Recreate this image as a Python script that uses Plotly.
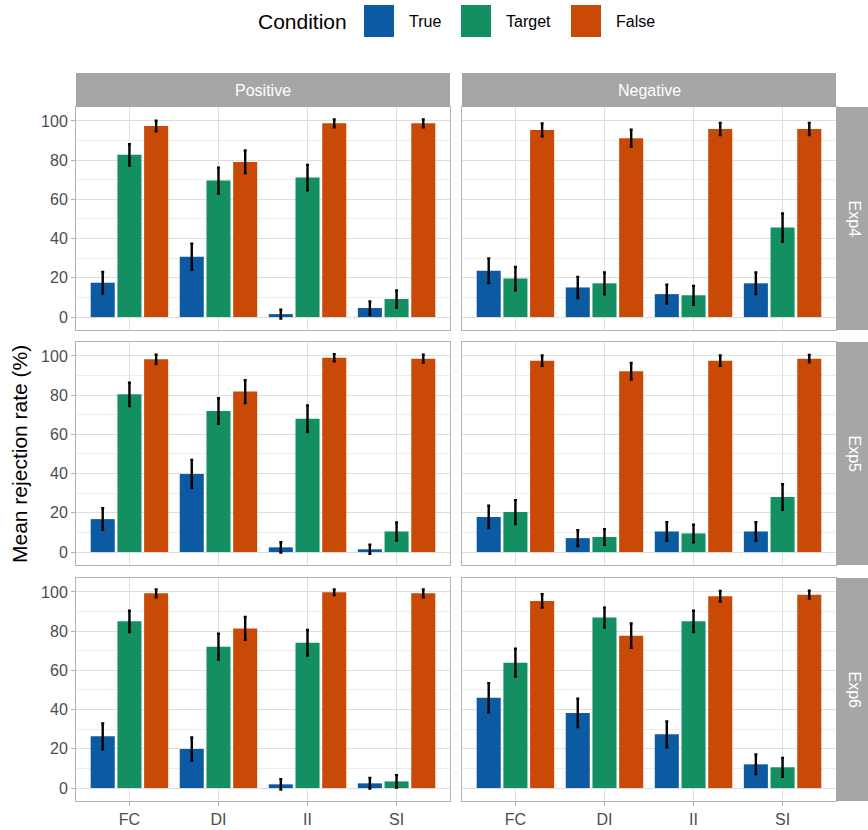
import plotly.graph_objects as go
from plotly.subplots import make_subplots

categories = ["FC", "DI", "II", "SI"]
conditions = ["True", "Target", "False"]
polarities = ["Positive", "Negative"]
experiments = ["Exp4", "Exp5", "Exp6"]
y_ticks = [0, 20, 40, 60, 80, 100]
y_minor = [10, 30, 50, 70, 90]

# Mean rejection rate (%) per experiment / polarity / condition, over categories FC, DI, II, SI
exp4_pos_true = [17.5, 30.8, 1.5, 4.6]
exp4_pos_target = [82.7, 69.6, 71.1, 9.2]
exp4_pos_false = [97.4, 79.1, 98.8, 98.8]
exp4_neg_true = [23.6, 15.1, 11.7, 17.2]
exp4_neg_target = [19.6, 17.2, 11.1, 45.6]
exp4_neg_false = [95.4, 91.2, 95.9, 95.9]

exp5_pos_true = [16.8, 39.8, 2.4, 1.4]
exp5_pos_target = [80.4, 71.9, 68.0, 10.5]
exp5_pos_false = [98.3, 81.8, 99.1, 98.6]
exp5_neg_true = [17.9, 7.1, 10.5, 10.5]
exp5_neg_target = [20.4, 7.7, 9.5, 28.1]
exp5_neg_false = [97.6, 92.2, 97.6, 98.6]

exp6_pos_true = [26.4, 19.9, 1.9, 2.4]
exp6_pos_target = [85.0, 72.1, 74.1, 3.4]
exp6_pos_false = [99.3, 81.4, 99.8, 99.3]
exp6_neg_true = [46.0, 38.3, 27.4, 12.1]
exp6_neg_target = [63.9, 86.9, 85.0, 10.6]
exp6_neg_false = [95.4, 77.7, 97.8, 98.6]

# Error bar half-widths (%)
exp4_pos_true_err = [5.5, 6.6, 2.2, 3.3]
exp4_pos_target_err = [5.4, 6.6, 6.5, 4.4]
exp4_pos_false_err = [2.7, 5.8, 2.0, 2.0]
exp4_neg_true_err = [6.3, 5.4, 4.8, 5.5]
exp4_neg_target_err = [5.9, 5.6, 4.8, 7.2]
exp4_neg_false_err = [3.3, 4.3, 3.1, 3.1]

exp5_pos_true_err = [5.5, 7.1, 2.6, 2.3]
exp5_pos_target_err = [6.0, 6.5, 6.8, 4.6]
exp5_pos_false_err = [2.3, 5.8, 1.8, 2.0]
exp5_neg_true_err = [5.7, 4.0, 4.7, 4.7]
exp5_neg_target_err = [6.1, 4.0, 4.5, 6.5]
exp5_neg_false_err = [2.6, 4.2, 2.6, 1.9]

exp6_pos_true_err = [6.6, 5.9, 2.6, 2.7]
exp6_pos_target_err = [5.4, 6.6, 6.5, 3.2]
exp6_pos_false_err = [2.0, 5.8, 1.4, 2.0]
exp6_neg_true_err = [7.4, 7.2, 6.6, 5.0]
exp6_neg_target_err = [7.1, 5.1, 5.4, 4.8]
exp6_neg_false_err = [3.4, 6.2, 2.7, 2.0]

values = {
    ("Exp4", "Positive"): [exp4_pos_true, exp4_pos_target, exp4_pos_false],
    ("Exp4", "Negative"): [exp4_neg_true, exp4_neg_target, exp4_neg_false],
    ("Exp5", "Positive"): [exp5_pos_true, exp5_pos_target, exp5_pos_false],
    ("Exp5", "Negative"): [exp5_neg_true, exp5_neg_target, exp5_neg_false],
    ("Exp6", "Positive"): [exp6_pos_true, exp6_pos_target, exp6_pos_false],
    ("Exp6", "Negative"): [exp6_neg_true, exp6_neg_target, exp6_neg_false],
}
errors = {
    ("Exp4", "Positive"): [exp4_pos_true_err, exp4_pos_target_err, exp4_pos_false_err],
    ("Exp4", "Negative"): [exp4_neg_true_err, exp4_neg_target_err, exp4_neg_false_err],
    ("Exp5", "Positive"): [exp5_pos_true_err, exp5_pos_target_err, exp5_pos_false_err],
    ("Exp5", "Negative"): [exp5_neg_true_err, exp5_neg_target_err, exp5_neg_false_err],
    ("Exp6", "Positive"): [exp6_pos_true_err, exp6_pos_target_err, exp6_pos_false_err],
    ("Exp6", "Negative"): [exp6_neg_true_err, exp6_neg_target_err, exp6_neg_false_err],
}

colors = ["#0B5AA2", "#148F62", "#C84A06"]

W, H = 868, 830
FONT = "Liberation Sans, Arial, sans-serif"
STRIP = "#A6A6A6"
BORDER = "#B3B3B3"
GRID = "#DEDEDE"
GRID_MINOR = "#EDEDED"

# pixel layout
col_x = [(76, 450), (462, 836)]
row_y = [(107, 330), (342, 565), (578, 801)]


def px_x(v):
    return v / W


def px_y(v):
    return 1 - v / H


fig = make_subplots(rows=3, cols=2)

for r, exp in enumerate(experiments):
    for c, pol in enumerate(polarities):
        vals = values[(exp, pol)]
        errs = errors[(exp, pol)]
        for k, cond in enumerate(conditions):
            fig.add_trace(
                go.Bar(
                    x=categories,
                    y=vals[k],
                    name=cond,
                    marker=dict(color=colors[k], line=dict(width=0)),
                    error_y=dict(type="data", array=errs[k], color="black",
                                 thickness=2.4, width=1.5),
                    showlegend=False,
                    offsetgroup=str(k),
                ),
                row=r + 1, col=c + 1,
            )

fig.update_layout(
    width=W, height=H,
    margin=dict(l=0, r=0, t=0, b=0),
    paper_bgcolor="white", plot_bgcolor="white",
    barmode="group", bargap=0.1, bargroupgap=0.1,
    font=dict(family=FONT, color="#4D4D4D", size=16),
    showlegend=False,
)

for r in range(3):
    for c in range(2):
        idx = r * 2 + c + 1
        xa = "xaxis" if idx == 1 else f"xaxis{idx}"
        ya = "yaxis" if idx == 1 else f"yaxis{idx}"
        fig.layout[xa].update(
            domain=[px_x(col_x[c][0]), px_x(col_x[c][1])],
            range=[-0.6, 3.6],
            showgrid=True, gridcolor=GRID, gridwidth=1,
            showline=True, mirror=True, linecolor=BORDER, linewidth=1,
            zeroline=False,
            ticks="outside" if r == 2 else "",
            ticklen=4, tickcolor=BORDER,
            showticklabels=(r == 2),
            tickfont=dict(size=16, color="#4D4D4D", family=FONT),
            categoryorder="array", categoryarray=categories,
        )
        fig.layout[ya].update(
            domain=[px_y(row_y[r][1]), px_y(row_y[r][0])],
            range=[-6.6, 107.1],
            tickvals=y_ticks,
            showgrid=True, gridcolor=GRID, gridwidth=1,
            minor=dict(tickvals=y_minor, showgrid=True, gridcolor=GRID_MINOR, gridwidth=0.6),
            showline=True, mirror=True, linecolor=BORDER, linewidth=1,
            zeroline=False,
            ticks="outside" if c == 0 else "",
            ticklen=4, tickcolor=BORDER,
            showticklabels=(c == 0),
            tickfont=dict(size=16, color="#4D4D4D", family=FONT),
        )

shapes = []
annotations = []

# top strips
for c, pol in enumerate(polarities):
    x0, x1 = col_x[c]
    shapes.append(dict(type="rect", xref="paper", yref="paper",
                       x0=px_x(x0), x1=px_x(x1), y0=px_y(107), y1=px_y(73),
                       fillcolor=STRIP, line=dict(width=0), layer="above"))
    annotations.append(dict(xref="paper", yref="paper", x=px_x((x0 + x1) / 2), y=px_y(90),
                            text=pol, showarrow=False, xanchor="center", yanchor="middle",
                            font=dict(size=16, color="white", family=FONT)))

# right strips
for r, exp in enumerate(experiments):
    y0, y1 = row_y[r]
    shapes.append(dict(type="rect", xref="paper", yref="paper",
                       x0=px_x(836), x1=px_x(872), y0=px_y(y1), y1=px_y(y0),
                       fillcolor=STRIP, line=dict(width=0), layer="above"))
    annotations.append(dict(xref="paper", yref="paper", x=px_x(854), y=px_y((y0 + y1) / 2),
                            text=exp, showarrow=False, textangle=90,
                            xanchor="center", yanchor="middle",
                            font=dict(size=16, color="white", family=FONT)))

# y axis title
annotations.append(dict(xref="paper", yref="paper", x=px_x(19), y=px_y(454),
                        text="Mean rejection rate (%)", showarrow=False, textangle=-90,
                        xanchor="center", yanchor="middle",
                        font=dict(size=21, color="black", family=FONT)))

# legend (manual)
annotations.append(dict(xref="paper", yref="paper", x=px_x(302), y=px_y(21),
                        text="Condition", showarrow=False, xanchor="center", yanchor="middle",
                        font=dict(size=21, color="black", family=FONT)))
key_x = [364, 461, 571]
for k, cond in enumerate(conditions):
    shapes.append(dict(type="rect", xref="paper", yref="paper",
                       x0=px_x(key_x[k]), x1=px_x(key_x[k] + 30), y0=px_y(37), y1=px_y(5),
                       fillcolor=colors[k], line=dict(width=0)))
    annotations.append(dict(xref="paper", yref="paper", x=px_x(key_x[k] + 43), y=px_y(21),
                            text=cond, showarrow=False, xanchor="left", yanchor="middle",
                            font=dict(size=16, color="black", family=FONT)))

fig.update_layout(shapes=shapes, annotations=annotations)

fig.write_html(
    "out.html",
    config={"displayModeBar": False},
    post_script="document.body.style.margin='0';document.body.style.overflow='hidden';",
)
